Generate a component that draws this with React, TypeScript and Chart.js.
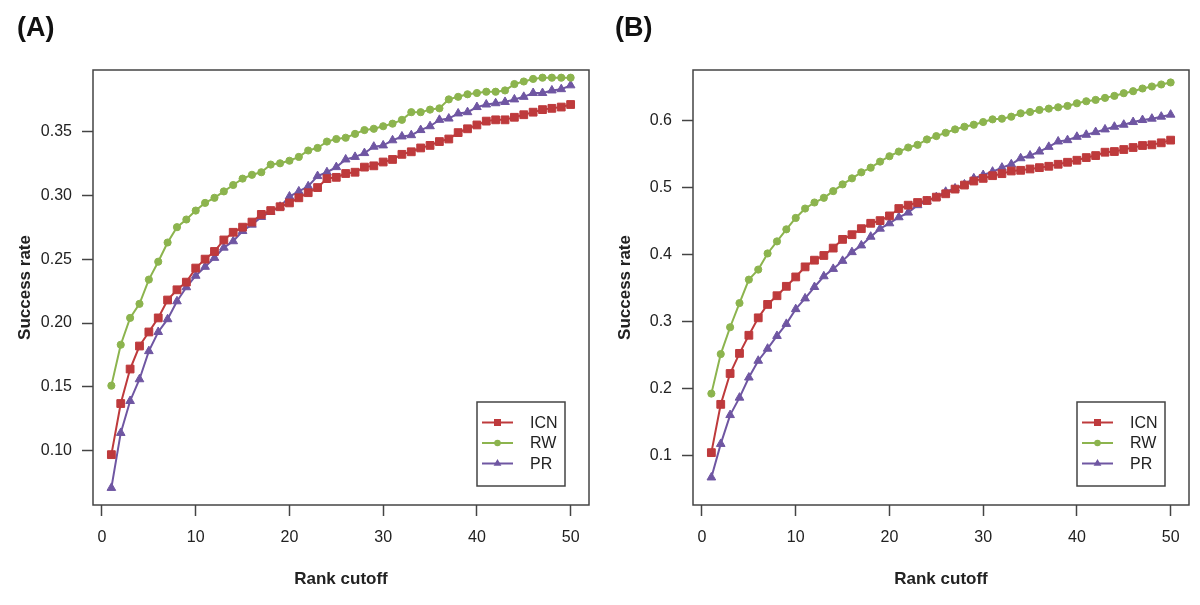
import React, { useEffect, useRef } from "react";
import { Chart, registerables } from "chart.js";

Chart.register(...registerables);

// ---------- data ----------
const rankCutoffs = [
  1, 2, 3, 4, 5, 6, 7, 8, 9, 10, 11, 12, 13, 14, 15, 16, 17, 18, 19, 20, 21, 22, 23, 24, 25,
  26, 27, 28, 29, 30, 31, 32, 33, 34, 35, 36, 37, 38, 39, 40, 41, 42, 43, 44, 45, 46, 47, 48, 49, 50,
];

const seriesNames = ["ICN", "RW", "PR"];

const icnA = [
  0.097, 0.137, 0.164, 0.182, 0.193, 0.204, 0.218, 0.226, 0.232, 0.243,
  0.25, 0.256, 0.265, 0.271, 0.275, 0.279, 0.285, 0.288, 0.291, 0.294,
  0.298, 0.302, 0.306, 0.313, 0.314, 0.317, 0.318, 0.322, 0.323, 0.326,
  0.328, 0.332, 0.334, 0.337, 0.339, 0.342, 0.344, 0.349, 0.352, 0.355,
  0.358, 0.359, 0.359, 0.361, 0.363, 0.365, 0.367, 0.368, 0.369, 0.371,
];
const rwA = [
  0.151, 0.183, 0.204, 0.215, 0.234, 0.248, 0.263, 0.275, 0.281, 0.288,
  0.294, 0.298, 0.303, 0.308, 0.313, 0.316, 0.318, 0.324, 0.325, 0.327,
  0.33, 0.335, 0.337, 0.342, 0.344, 0.345, 0.348, 0.351, 0.352, 0.354,
  0.356, 0.359, 0.365, 0.365, 0.367, 0.368, 0.375, 0.377, 0.379, 0.38,
  0.381, 0.381, 0.382, 0.387, 0.389, 0.391, 0.392, 0.392, 0.392, 0.392,
];
const prA = [
  0.071, 0.114, 0.139, 0.156, 0.178, 0.193, 0.203, 0.217, 0.228, 0.237,
  0.244, 0.251, 0.259, 0.264, 0.272, 0.277, 0.283, 0.287, 0.291, 0.299,
  0.303, 0.307, 0.315, 0.318, 0.322, 0.328, 0.33, 0.333, 0.338, 0.339,
  0.343, 0.346, 0.347, 0.351, 0.354, 0.359, 0.36, 0.364, 0.365, 0.369,
  0.371, 0.372, 0.373, 0.375, 0.377, 0.38, 0.38, 0.382, 0.383, 0.386,
];

const icnB = [
  0.105, 0.177, 0.223, 0.253, 0.28, 0.306, 0.326, 0.339, 0.353, 0.367,
  0.382, 0.392, 0.399, 0.41, 0.423, 0.43, 0.439, 0.447, 0.451, 0.458,
  0.469, 0.474, 0.478, 0.481, 0.486, 0.491, 0.498, 0.504, 0.51, 0.514,
  0.518, 0.521, 0.525, 0.526, 0.528, 0.53, 0.532, 0.535, 0.538, 0.541,
  0.545, 0.548, 0.553, 0.554, 0.557, 0.56, 0.563, 0.564, 0.567, 0.571,
];
const rwB = [
  0.193, 0.252, 0.292, 0.328, 0.363, 0.378, 0.402, 0.42, 0.438, 0.455,
  0.469, 0.478, 0.485, 0.495, 0.505, 0.514, 0.523, 0.53, 0.539, 0.547,
  0.554, 0.56, 0.564, 0.572, 0.577, 0.582, 0.587, 0.591, 0.594, 0.598,
  0.602, 0.603, 0.606, 0.611, 0.613, 0.616, 0.618, 0.62, 0.622, 0.626,
  0.629, 0.631, 0.634, 0.637, 0.641, 0.644, 0.648, 0.651, 0.654, 0.657,
];
const prB = [
  0.068, 0.118, 0.161, 0.187, 0.217, 0.242, 0.26, 0.279, 0.297, 0.319,
  0.335, 0.352, 0.368, 0.379, 0.391, 0.404, 0.414, 0.427, 0.439, 0.447,
  0.456, 0.463, 0.474, 0.48, 0.486, 0.494, 0.499, 0.505, 0.514, 0.519,
  0.524, 0.53, 0.535, 0.544, 0.548, 0.554, 0.561, 0.569, 0.571, 0.576,
  0.579, 0.583, 0.587, 0.591, 0.594, 0.598, 0.601, 0.603, 0.606, 0.609,
];

const xTicks = [0, 10, 20, 30, 40, 50];
const yTicksA = [0.1, 0.15, 0.2, 0.25, 0.3, 0.35];
const yTickLabelsA = ["0.10", "0.15", "0.20", "0.25", "0.30", "0.35"];
const yTicksB = [0.1, 0.2, 0.3, 0.4, 0.5, 0.6];
const yTickLabelsB = ["0.1", "0.2", "0.3", "0.4", "0.5", "0.6"];

const xTitle = "Rank cutoff";
const yTitle = "Success rate";

// ---------- styles ----------
const FONT = "'Liberation Sans', Arial, sans-serif";
const TEXT = "#222";
const FRAME = "#444";
const colors = ["#BE3A3C", "#8CB44E", "#6F56A2"];
const pointStyles = ["rect", "circle", "triangle"];
const pointRadii = [5.5, 3.6, 5];

function drawMarker(ctx: CanvasRenderingContext2D, style: string, x: number, y: number, r: number) {
  ctx.beginPath();
  if (style === "rect") {
    const s = Math.SQRT1_2 * r;
    ctx.rect(x - s, y - s, 2 * s, 2 * s);
  } else if (style === "circle") {
    ctx.arc(x, y, r, 0, Math.PI * 2);
  } else {
    ctx.moveTo(x, y - r);
    ctx.lineTo(x + 0.866 * r, y + 0.5 * r);
    ctx.lineTo(x - 0.866 * r, y + 0.5 * r);
    ctx.closePath();
  }
  ctx.fill();
}

const frameLegendPlugin = {
  id: "frameLegend",
  afterDraw(chart: any) {
    const { ctx, chartArea: ca } = chart;
    ctx.save();
    ctx.strokeStyle = FRAME;
    ctx.lineWidth = 1.5;
    ctx.strokeRect(ca.left, ca.top, ca.right - ca.left, ca.bottom - ca.top);
    const w = 88;
    const h = 84;
    const bx = ca.right - 24 - w;
    const by = ca.bottom - 19 - h;
    ctx.strokeRect(bx, by, w, h);
    chart.data.datasets.forEach((ds: any, i: number) => {
      const y = by + 20.5 + i * 20.5;
      ctx.strokeStyle = ds.borderColor;
      ctx.fillStyle = ds.borderColor;
      ctx.lineWidth = 2;
      ctx.beginPath();
      ctx.moveTo(bx + 5, y);
      ctx.lineTo(bx + 36, y);
      ctx.stroke();
      drawMarker(ctx, ds.pointStyle, bx + 20.5, y, ds.pointRadius * 0.9);
      ctx.fillStyle = TEXT;
      ctx.font = `16px ${FONT}`;
      ctx.textAlign = "left";
      ctx.textBaseline = "middle";
      ctx.fillText(ds.label, bx + 53, y + 1);
    });
    ctx.restore();
  },
};

type PanelProps = {
  left: number;
  series: number[][];
  yMin: number;
  yMax: number;
  yTicks: number[];
  yLabels: string[];
};

function Panel({ left, series, yMin, yMax, yTicks, yLabels }: PanelProps) {
  const ref = useRef<HTMLCanvasElement | null>(null);
  useEffect(() => {
    if (!ref.current) return;
    const datasets = series.map((vals, i) => ({
      label: seriesNames[i],
      data: rankCutoffs.map((x, j) => ({ x, y: vals[j] })),
      borderColor: colors[i],
      backgroundColor: colors[i],
      pointBackgroundColor: colors[i],
      pointBorderColor: colors[i],
      pointBorderWidth: 1,
      pointStyle: pointStyles[i],
      pointRadius: pointRadii[i],
      borderWidth: 2,
      tension: 0,
    }));
    const tickFont = { family: FONT, size: 16 };
    const titleFont = { family: FONT, size: 17, weight: "bold" as const };
    const chart = new Chart(ref.current, {
      type: "line",
      data: { datasets },
      plugins: [frameLegendPlugin],
      options: {
        animation: false,
        responsive: false,
        layout: { padding: { top: 70, right: 11, left: 0, bottom: 0 } },
        plugins: { legend: { display: false }, tooltip: { enabled: false } },
        scales: {
          x: {
            type: "linear",
            min: -0.96,
            max: 51.96,
            afterBuildTicks: (s: any) => {
              s.ticks = xTicks.map((v) => ({ value: v }));
            },
            afterFit: (s: any) => {
              s.height = 100;
            },
            ticks: {
              font: tickFont,
              color: TEXT,
              padding: 12,
              maxRotation: 0,
              autoSkip: false,
              callback: (v: any) => String(v),
            },
            grid: {
              drawOnChartArea: false,
              drawTicks: true,
              tickLength: 11,
              tickColor: FRAME,
              tickWidth: 1.5,
              color: FRAME,
            },
            border: { display: false },
            title: {
              display: true,
              text: xTitle,
              font: titleFont,
              color: TEXT,
              padding: { top: 0, bottom: 15 },
            },
          },
          y: {
            type: "linear",
            min: yMin,
            max: yMax,
            afterBuildTicks: (s: any) => {
              s.ticks = yTicks.map((v) => ({ value: v }));
            },
            afterFit: (s: any) => {
              s.width = 93;
            },
            ticks: {
              font: tickFont,
              color: TEXT,
              padding: 10,
              autoSkip: false,
              callback: (_v: any, i: number) => yLabels[i],
            },
            grid: {
              drawOnChartArea: false,
              drawTicks: true,
              tickLength: 11,
              tickColor: FRAME,
              tickWidth: 1.5,
              color: FRAME,
            },
            border: { display: false },
            title: {
              display: true,
              text: yTitle,
              font: titleFont,
              color: TEXT,
              padding: { top: 15, bottom: 0 },
            },
          },
        },
      } as any,
    });
    return () => chart.destroy();
  }, []);
  return (
    <canvas
      ref={ref}
      width={600}
      height={605}
      style={{ position: "absolute", left, top: 0, width: 600, height: 605, display: "block" }}
    />
  );
}

export default function App() {
  const labelStyle: React.CSSProperties = {
    position: "absolute",
    top: 12,
    fontFamily: FONT,
    fontWeight: "bold",
    fontSize: 27,
    lineHeight: "30px",
    color: "#111",
  };
  return (
    <div style={{ position: "absolute", left: 0, top: 0, width: 1200, height: 605, background: "#fff", overflow: "hidden" }}>
      <Panel left={0} series={[icnA, rwA, prA]} yMin={0.0576} yMax={0.398} yTicks={yTicksA} yLabels={yTickLabelsA} />
      <Panel left={600} series={[icnB, rwB, prB]} yMin={0.0269} yMax={0.6756} yTicks={yTicksB} yLabels={yTickLabelsB} />
      <div style={{ ...labelStyle, left: 17 }}>(A)</div>
      <div style={{ ...labelStyle, left: 615 }}>(B)</div>
    </div>
  );
}
